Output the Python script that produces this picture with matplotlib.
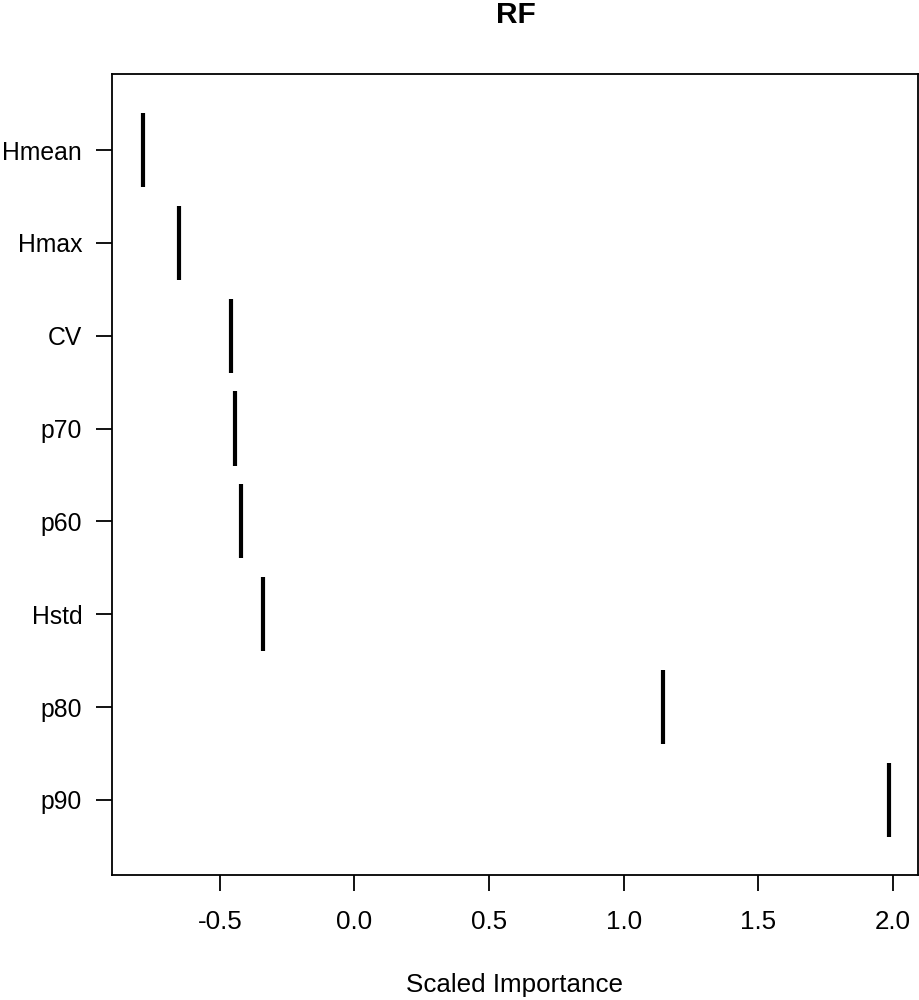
import matplotlib
matplotlib.use("Agg")
import matplotlib.pyplot as plt
import numpy as np

plt.rcParams['font.family'] = ['Liberation Sans', 'DejaVu Sans']

# variables from bottom to top
variables = ["p90", "p80", "Hstd", "p60", "p70", "CV", "Hmax", "Hmean"]
importance = [1.985, 1.145, -0.341, -0.422, -0.444, -0.459, -0.651, -0.787]
xticks = [-0.5, 0.0, 0.5, 1.0, 1.5, 2.0]

fig = plt.figure(figsize=(9.19, 10), dpi=100)
ax = fig.add_axes([112/919, 1 - 875/1000, (918-112)/919, (875-74)/1000])

pos = np.arange(1, len(variables) + 1)
ax.vlines(importance, pos - 0.4, pos + 0.4, colors="black", linewidth=3)

ax.set_xlim(-0.901, 2.094)
ax.set_ylim(0.19, 8.82)
ax.set_xticks(xticks)
ax.set_xticklabels([f"{t:.1f}" for t in xticks])
ax.set_yticks(pos)
ax.set_yticklabels(variables)

for s in ax.spines.values():
    s.set_linewidth(1.3)
ax.tick_params(axis="both", length=11.5, width=1.3, labelsize=18.7)
ax.tick_params(axis="y", pad=10, labelsize=17.8)
ax.tick_params(axis="x", pad=14)

ax.set_xlabel("Scaled Importance", fontsize=18.7, labelpad=28)
fig.text(516/919, 1 - 15/1000, "RF", ha="center", va="center",
         fontsize=21.5, fontweight="bold")

fig.savefig("out.png", dpi=100)
